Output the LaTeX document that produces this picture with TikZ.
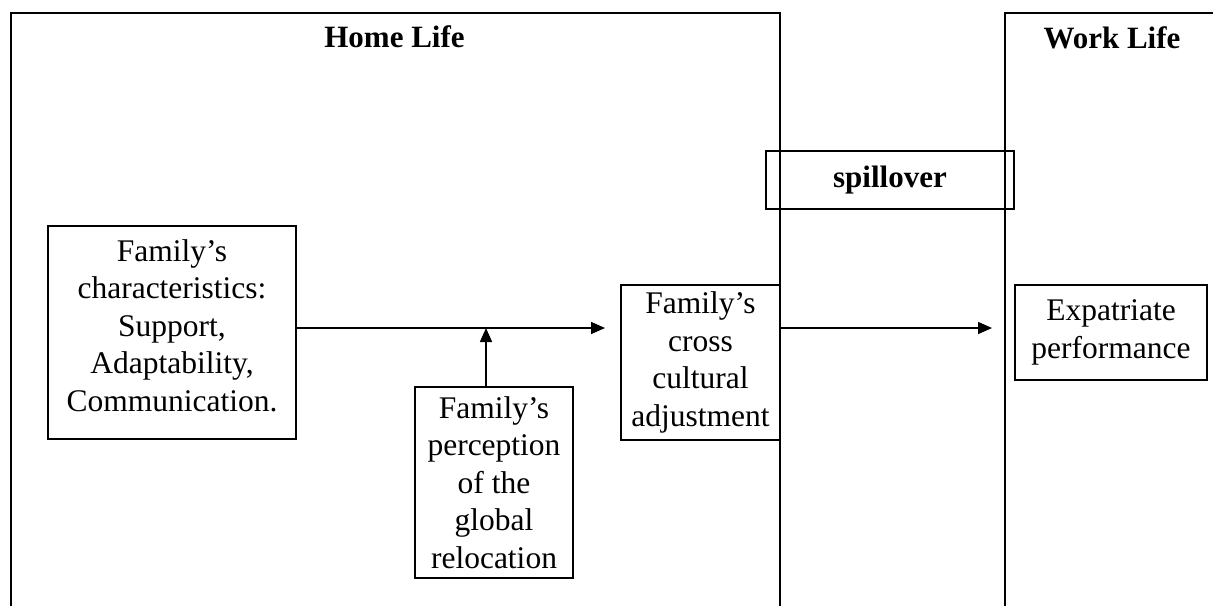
\documentclass[tikz,border=0pt]{standalone}
\usepackage{fontspec}
\setmainfont{Liberation Serif}
\usetikzlibrary{arrows.meta}
\begin{document}
\begin{tikzpicture}[x=1pt,y=-1pt,
  font=\fontsize{31.5}{37.5}\selectfont,
  box/.style={draw, line width=1.6pt, align=center, inner sep=0pt},
  title/.style={font=\fontsize{31}{37.5}\selectfont\bfseries},
  frame/.style={line width=1.6pt},
  arr/.style={line width=1.6pt, -{Triangle[length=14pt,width=12pt]}}]
\useasboundingbox (0,0) rectangle (1213,606);
% frames
\coordinate (hbl) at (11,606); \coordinate (htl) at (11,13);
\coordinate (htr) at (780,13); \coordinate (hbr) at (780,606);
\coordinate (wbl) at (1005,606); \coordinate (wtl) at (1005,13); \coordinate (wtr) at (1213,13);
\draw[frame] (hbl) -- (htl) -- (htr) -- (hbr);
\draw[frame] (wbl) -- (wtl) -- (wtr);
% titles
\node[title] (home) at (394.5,37) {Home Life};
\node[title] (work) at (1112,38) {Work Life};
% boxes
\node[box, minimum width=248pt, minimum height=213pt, text depth=14pt] (char) at (172,332.5)
  {Family's\\characteristics:\\Support,\\Adaptability,\\Communication.};
\node[box, minimum width=158pt, minimum height=191pt] (perc) at (494,482.5)
  {Family's\\perception\\of the\\global\\relocation};
\node[box, minimum width=159pt, minimum height=155pt] (cross) at (700.5,362.5)
  {Family's\\cross\\cultural\\adjustment};
\node[box, minimum width=192pt, minimum height=95pt] (expat) at (1111,332.5)
  {Expatriate\\performance};
\node[box, minimum width=248pt, minimum height=58pt, font=\fontsize{31}{37.5}\selectfont\bfseries] (spill) at (890,180) {spillover};
% connectors
\coordinate (j1) at (486,328);
\coordinate (t1) at (605,328);
\coordinate (t2) at (992,328);
\draw[arr] (char.east |- t1) -- (t1);
\draw[arr] (perc.north -| j1) -- (j1);
\draw[arr] (cross.east |- t2) -- (t2);
\end{tikzpicture}
\end{document}
